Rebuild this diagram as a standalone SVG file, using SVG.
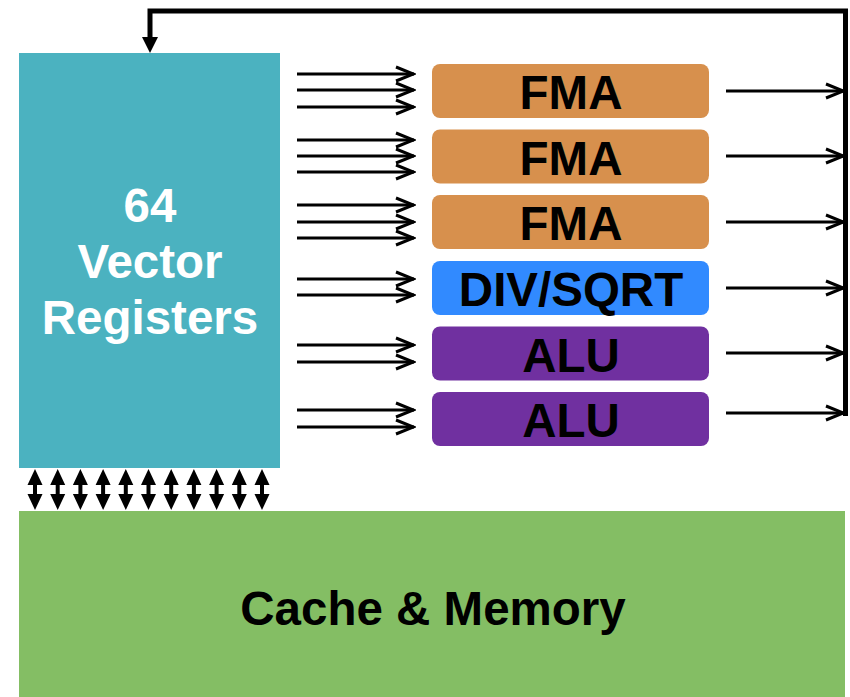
<svg xmlns="http://www.w3.org/2000/svg" width="850" height="697" viewBox="0 0 850 697">
<defs>
<style>
.lbl{font-family:"Liberation Sans",Arial,sans-serif;font-weight:bold;font-size:47.5px;text-anchor:middle}
.w{fill:#ffffff}
.k{fill:#000000}
.ln{stroke:#000;stroke-width:2.8;fill:none}
</style>
<marker id="chev" viewBox="0 0 22 18" refX="20" refY="9" markerWidth="22" markerHeight="18" markerUnits="userSpaceOnUse" orient="auto">
<path d="M2,2 L19.5,9 L2,16" fill="none" stroke="#000" stroke-width="3"/>
</marker>
<path id="dbl" d="M0,0 L7.5,16 L2,16 L2,25 L7.5,25 L0,41 L-7.5,25 L-2,25 L-2,16 L-7.5,16 Z" fill="#000"/>
</defs>
<rect width="850" height="697" fill="#ffffff"/>

<g id="registers">
<rect x="19" y="53" width="261" height="415" fill="#4BB2C0"/>
<text class="lbl w" x="150" y="222">64</text>
<text class="lbl w" x="150" y="278">Vector</text>
<text class="lbl w" x="150" y="334">Registers</text>
</g>

<g id="memory">
<rect x="19" y="511" width="826" height="186" fill="#84BE64"/>
<text class="lbl k" x="433" y="625">Cache &amp; Memory</text>
</g>

<g id="fma1">
<rect x="432" y="64" width="277" height="54" rx="8" fill="#D7904D"/>
<text class="lbl k" x="571" y="109">FMA</text>
</g>
<g id="fma2">
<rect x="432" y="129.5" width="277" height="54" rx="8" fill="#D7904D"/>
<text class="lbl k" x="571" y="174.5">FMA</text>
</g>
<g id="fma3">
<rect x="432" y="195" width="277" height="54" rx="8" fill="#D7904D"/>
<text class="lbl k" x="571" y="240">FMA</text>
</g>
<g id="divsqrt">
<rect x="432" y="261" width="277" height="54" rx="8" fill="#318AFF"/>
<text class="lbl k" x="571" y="306">DIV/SQRT</text>
</g>
<g id="alu1">
<rect x="432" y="326.5" width="277" height="54" rx="8" fill="#7030A0"/>
<text class="lbl k" x="571" y="371.5">ALU</text>
</g>
<g id="alu2">
<rect x="432" y="392" width="277" height="54" rx="8" fill="#7030A0"/>
<text class="lbl k" x="571" y="437">ALU</text>
</g>

<g id="connectors">
<g class="ln" marker-end="url(#chev)">
<line x1="297" y1="74" x2="414" y2="74"/>
<line x1="297" y1="90" x2="414" y2="90"/>
<line x1="297" y1="107" x2="414" y2="107"/>
<line x1="297" y1="140" x2="414" y2="140"/>
<line x1="297" y1="156" x2="414" y2="156"/>
<line x1="297" y1="172" x2="414" y2="172"/>
<line x1="297" y1="205" x2="414" y2="205"/>
<line x1="297" y1="222" x2="414" y2="222"/>
<line x1="297" y1="238" x2="414" y2="238"/>
<line x1="297" y1="279" x2="414" y2="279"/>
<line x1="297" y1="295" x2="414" y2="295"/>
<line x1="297" y1="345" x2="414" y2="345"/>
<line x1="297" y1="362" x2="414" y2="362"/>
<line x1="297" y1="410" x2="414" y2="410"/>
<line x1="297" y1="427" x2="414" y2="427"/>
</g>
<g class="ln" marker-end="url(#chev)">
<line x1="726" y1="91" x2="844" y2="91"/>
<line x1="726" y1="156" x2="844" y2="156"/>
<line x1="726" y1="222" x2="844" y2="222"/>
<line x1="726" y1="288" x2="844" y2="288"/>
<line x1="726" y1="353" x2="844" y2="353"/>
<line x1="726" y1="413" x2="844" y2="413"/>
</g>
<path d="M845.5,416 L845.5,11 L150,11 L150,38" fill="none" stroke="#000" stroke-width="5" stroke-linejoin="miter"/>
<path d="M142,37 L158,37 L150,53 Z" fill="#000"/>
<use href="#dbl" x="35" y="469"/>
<use href="#dbl" x="57.7" y="469"/>
<use href="#dbl" x="80.4" y="469"/>
<use href="#dbl" x="103.1" y="469"/>
<use href="#dbl" x="125.8" y="469"/>
<use href="#dbl" x="148.5" y="469"/>
<use href="#dbl" x="171.2" y="469"/>
<use href="#dbl" x="193.9" y="469"/>
<use href="#dbl" x="216.6" y="469"/>
<use href="#dbl" x="239.3" y="469"/>
<use href="#dbl" x="262" y="469"/>
</g>
</svg>
